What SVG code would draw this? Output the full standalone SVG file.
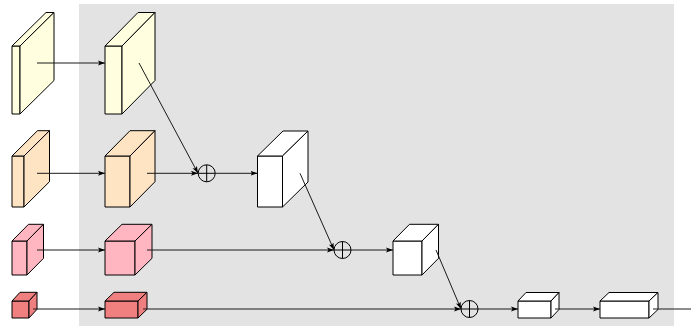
<svg xmlns="http://www.w3.org/2000/svg" width="691" height="326" viewBox="0 0 691 326">
<style>
.b polygon{stroke:#000;stroke-width:1;stroke-linejoin:round}
.y polygon{fill:#FFFFE0}
.o polygon{fill:#FFE4C4}
.p polygon{fill:#FFB6C1}
.r polygon{fill:#F08080}
.w polygon{fill:#FFFFFF}
.c line{stroke:#1a1a1a;stroke-width:1;fill:none}
.a{marker-end:url(#ah)}
.s circle{fill:none;stroke:#000;stroke-width:1}
.s line{stroke:#000;stroke-width:1}
</style>
<defs>
<marker id="ah" markerUnits="userSpaceOnUse" markerWidth="8" markerHeight="6" refX="7" refY="3" orient="auto">
<path d="M0,0.5 L7,3 L0,5.5 L1.5,3 z" fill="#000"/>
</marker>
</defs>
<rect x="79" y="4" width="595" height="330" fill="#E3E3E3"/>

<g id="box1" class="b y">
<polygon points="12,46 20,46 20,114 12,114"/>
<polygon points="12,46 20,46 54,12.5 46,12.5"/>
<polygon points="20,46 54,12.5 54,80.5 20,114"/>
</g>
<g id="box2" class="b y">
<polygon points="105,46 122,46 122,114 105,114"/>
<polygon points="105,46 122,46 155,12.5 138,12.5"/>
<polygon points="122,46 155,12.5 155,80.5 122,114"/>
</g>
<g id="box3" class="b o">
<polygon points="12,156 24,156 24,207 12,207"/>
<polygon points="12,156 24,156 49.5,130.7 37.5,130.7"/>
<polygon points="24,156 49.5,130.7 49.5,181.7 24,207"/>
</g>
<g id="box4" class="b o">
<polygon points="105,156 130,156 130,207 105,207"/>
<polygon points="105,156 130,156 155,130.7 130,130.7"/>
<polygon points="130,156 155,130.7 155,181.7 130,207"/>
</g>
<g id="box5" class="b w">
<polygon points="257.5,156 282.5,156 282.5,207 257.5,207"/>
<polygon points="257.5,156 282.5,156 308,131 283,131"/>
<polygon points="282.5,156 308,131 308,182 282.5,207"/>
</g>
<g id="box6" class="b p">
<polygon points="12,241 27,241 27,275 12,275"/>
<polygon points="12,241 27,241 43.5,224.3 28.5,224.3"/>
<polygon points="27,241 43.5,224.3 43.5,258.3 27,275"/>
</g>
<g id="box7" class="b p">
<polygon points="105,241 135,241 135,275 105,275"/>
<polygon points="105,241 135,241 152,224.3 122,224.3"/>
<polygon points="135,241 152,224.3 152,258.3 135,275"/>
</g>
<g id="box12" class="b w">
<polygon points="393,241 422,241 422,275 393,275"/>
<polygon points="393,241 422,241 438.5,224.3 409.5,224.3"/>
<polygon points="422,241 438.5,224.3 438.5,258.3 422,275"/>
</g>
<g id="box8" class="b r">
<polygon points="12,301 29,301 29,318 12,318"/>
<polygon points="12,301 29,301 37,292.3 20,292.3"/>
<polygon points="29,301 37,292.3 37,309.3 29,318"/>
</g>
<g id="box9" class="b r">
<polygon points="105,301 138,301 138,318 105,318"/>
<polygon points="105,301 138,301 147,292.3 114,292.3"/>
<polygon points="138,301 147,292.3 147,309.3 138,318"/>
</g>
<g id="box10" class="b w">
<polygon points="518,301 551,301 551,318 518,318"/>
<polygon points="518,301 551,301 559,292.5 526,292.5"/>
<polygon points="551,301 559,292.5 559,309.5 551,318"/>
</g>
<g id="box11" class="b w">
<polygon points="600,301 649,301 649,318 600,318"/>
<polygon points="600,301 649,301 658,292.5 609,292.5"/>
<polygon points="649,301 658,292.5 658,309.5 649,318"/>
</g>

<g id="sum1" class="s">
<circle cx="206.7" cy="173.3" r="8.5"/>
<line x1="198.2" y1="173.3" x2="215.2" y2="173.3"/>
<line x1="206.7" y1="164.8" x2="206.7" y2="181.8"/>
</g>
<g id="sum2" class="s">
<circle cx="342.5" cy="250" r="8.5"/>
<line x1="334" y1="250" x2="351" y2="250"/>
<line x1="342.5" y1="241.5" x2="342.5" y2="258.5"/>
</g>
<g id="sum3" class="s">
<circle cx="469.5" cy="309" r="8.5"/>
<line x1="461" y1="309" x2="478" y2="309"/>
<line x1="469.5" y1="300.5" x2="469.5" y2="317.5"/>
</g>

<g id="connectors" class="c">
<line class="a" x1="37" y1="63" x2="105" y2="63"/>
<line class="a" x1="37" y1="173.3" x2="105" y2="173.3"/>
<line class="a" x1="37" y1="250" x2="105" y2="250"/>
<line class="a" x1="33" y1="309" x2="105" y2="309"/>
<line class="a" x1="139" y1="63" x2="198" y2="173.3"/>
<line class="a" x1="147" y1="173.3" x2="198" y2="173.3"/>
<line class="a" x1="215.2" y1="173.3" x2="257.5" y2="173.3"/>
<line class="a" x1="300" y1="173.3" x2="334" y2="250"/>
<line class="a" x1="147" y1="250" x2="334" y2="250"/>
<line class="a" x1="351" y1="250" x2="393" y2="250"/>
<line class="a" x1="436" y1="250" x2="461" y2="309"/>
<line class="a" x1="143" y1="309" x2="461" y2="309"/>
<line class="a" x1="478" y1="309" x2="518" y2="309"/>
<line class="a" x1="555" y1="309" x2="600" y2="309"/>
<line x1="653" y1="309" x2="691" y2="309"/>
</g>
</svg>
